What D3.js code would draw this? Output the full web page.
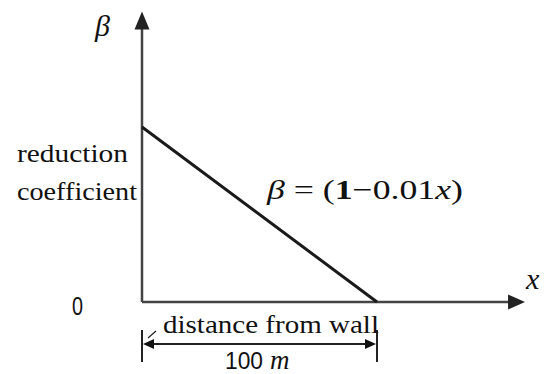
<!DOCTYPE html>
<html>
<head>
<meta charset="utf-8">
<script src="https://cdn.jsdelivr.net/npm/d3@7"></script>
<style>
  body { margin: 0; background: #fff; }
  text { fill: #111; }
</style>
</head>
<body>
<svg id="chart" width="544" height="374"></svg>
<script>
// reduction coefficient beta = 1 - 0.01 x
var distance = [0, 100];
var beta = [1, 0];
var axisMax = { x: 163, y: 1.66 };

var SERIF = '"Liberation Serif", "Times New Roman", serif';
var SANS = '"Liberation Sans", Arial, sans-serif';

var svg = d3.select('#chart');

var x = d3.scaleLinear().domain([0, 100]).range([142, 377]);
var y = d3.scaleLinear().domain([0, 1]).range([302, 127]);

function arrow(tip, dir, len, half) {
    // dir: unit vector pointing toward tip
    var bx = tip[0] - dir[0] * len, by = tip[1] - dir[1] * len;
    var px = -dir[1] * half, py = dir[0] * half;
    return 'M' + tip[0] + ',' + tip[1] +
        'L' + (bx + px) + ',' + (by + py) +
        'L' + (bx - px) + ',' + (by - py) + 'Z';
}

function label(tx, ty, size, str) {
    return svg.append('text')
        .attr('x', tx).attr('y', ty)
        .attr('font-family', SERIF)
        .attr('font-size', size)
        .text(str);
}

var axes = svg.append('g').attr('stroke', '#444').attr('fill', '#222');

// vertical axis
axes.append('line')
    .attr('x1', x(0)).attr('y1', y(0))
    .attr('x2', x(0)).attr('y2', y(axisMax.y) + 10)
    .attr('stroke-width', 2.5);
axes.append('path')
    .attr('d', arrow([x(0), y(axisMax.y)], [0, -1], 18, 7.5))
    .attr('stroke', 'none');

// horizontal axis
axes.append('line')
    .attr('x1', x(0)).attr('y1', y(0))
    .attr('x2', x(axisMax.x) - 10).attr('y2', y(0))
    .attr('stroke-width', 2.5);
axes.append('path')
    .attr('d', arrow([x(axisMax.x), y(0)], [1, 0], 17, 7.5))
    .attr('stroke', 'none');

// reduction line
var line = d3.line()
    .x(function(d, i) { return x(distance[i]); })
    .y(function(d) { return y(d); });

svg.append('path')
    .datum(beta)
    .attr('d', line)
    .attr('fill', 'none')
    .attr('stroke', '#1a1a1a')
    .attr('stroke-width', 3);

// dimension line 0..100
var dimY = 344;
var dim = svg.append('g').attr('stroke', '#222').attr('fill', '#111');
[0, 100].forEach(function(v) {
    dim.append('line')
        .attr('x1', x(v)).attr('x2', x(v))
        .attr('y1', 330).attr('y2', 362)
        .attr('stroke-width', 2);
});
dim.append('line')
    .attr('x1', x(0) + 8).attr('x2', x(100) - 8)
    .attr('y1', dimY).attr('y2', dimY)
    .attr('stroke-width', 2);
dim.append('path')
    .attr('d', arrow([x(0) + 1, dimY], [-1, 0], 11, 5))
    .attr('stroke', 'none');
dim.append('path')
    .attr('d', arrow([x(100) - 1, dimY], [1, 0], 11, 5))
    .attr('stroke', 'none');
// leader from arrow to label
dim.append('line')
    .attr('x1', x(0) + 6).attr('y1', dimY - 6)
    .attr('x2', x(0) + 14).attr('y2', dimY - 13)
    .attr('stroke-width', 1.2);

// labels
label(95, 36, 30, 'β').attr('font-style', 'italic');
label(526, 289, 30, 'x').attr('font-style', 'italic');

label(17, 162, 26, 'reduction')
    .attr('textLength', 111).attr('lengthAdjust', 'spacingAndGlyphs');
label(17, 200, 26, 'coefficient')
    .attr('textLength', 120).attr('lengthAdjust', 'spacingAndGlyphs');

label(72, 315, 25, '0')
    .attr('font-family', SANS)
    .attr('textLength', 11).attr('lengthAdjust', 'spacingAndGlyphs');

label(163, 333, 26, 'distance from wall')
    .attr('textLength', 216).attr('lengthAdjust', 'spacingAndGlyphs');

label(225, 369, 24, '100')
    .attr('font-family', SANS)
    .attr('textLength', 38).attr('lengthAdjust', 'spacingAndGlyphs');
label(270, 369, 27, 'm').attr('font-style', 'italic');

// equation
var eq = label(267, 199, 28, null)
    .attr('textLength', 196).attr('lengthAdjust', 'spacingAndGlyphs');
eq.append('tspan').attr('font-style', 'italic').text('β');
eq.append('tspan').text(' = (');
eq.append('tspan').attr('font-weight', 'bold').text('1');
eq.append('tspan').text('−0.01');
eq.append('tspan').attr('font-style', 'italic').text('x');
eq.append('tspan').text(')');
</script>
</body>
</html>
